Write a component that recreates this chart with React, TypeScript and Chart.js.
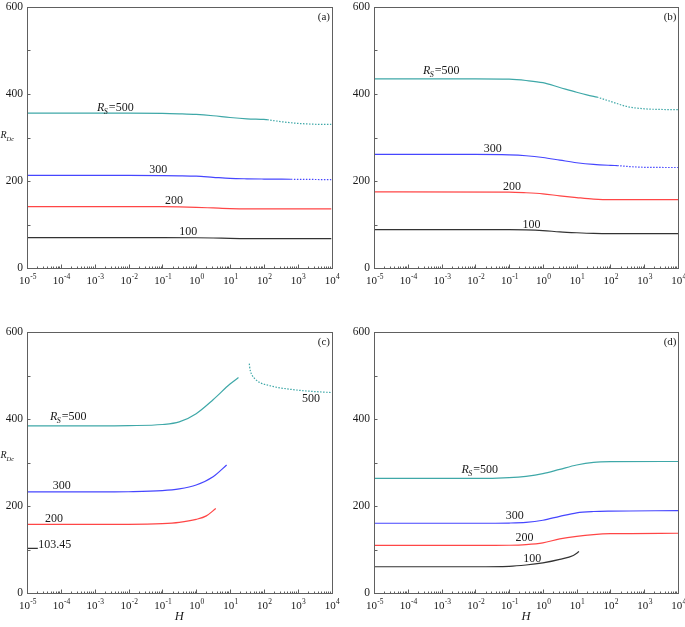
import React, { useEffect, useRef } from 'react';
import { Chart, registerables } from 'chart.js';

Chart.register(...registerables);

const SERIF = '"Liberation Serif", "Times New Roman", serif';
const TEAL = '#3fa8a8';
const BLUE = '#4646ff';
const RED = '#ff4646';
const BLACK = '#333333';
const FRAME = '#606060';
const TEXT = '#1a1a1a';

// Axis ticks
const X_DECADES = [-5, -4, -3, -2, -1, 0, 1, 2, 3, 4];
const Y_MAJOR = [0, 200, 400, 600];
const Y_MINOR = [100, 300, 500];

// ---------- Panel (a) ----------
const A500_SOLID_LOGH = [-5, -2, -1, -0.5, 0, 0.5, 1, 1.5, 2, 2.1];
const A500_SOLID_R = [356, 356, 355.5, 354.5, 353, 350, 346, 343, 341.5, 341];
const A500_DOT_LOGH = [2.1, 2.5, 3, 3.5, 4];
const A500_DOT_R = [341, 336.5, 332.5, 330.5, 330];
const A300_SOLID_LOGH = [-5, -2, -1, -0.5, 0, 0.5, 1, 1.5, 2, 2.8];
const A300_SOLID_R = [213, 213, 212.5, 212, 211, 208.5, 206, 205, 204.5, 204];
const A300_DOT_LOGH = [2.8, 3.5, 4];
const A300_DOT_R = [204, 203.5, 203];
const A200_LOGH = [-5, -1, -0.5, 0, 0.5, 1, 1.5, 2, 4];
const A200_R = [141, 141, 140.5, 139.5, 138, 136.5, 136, 135.8, 135.8];
const A100_LOGH = [-5, -1, 0, 0.5, 1, 1.5, 2, 4];
const A100_R = [70, 70, 69.5, 69, 68, 67.5, 67.5, 67.5];

// ---------- Panel (b) ----------
const B500_SOLID_LOGH = [-5, -2, -1, -0.5, 0, 0.5, 1, 1.3, 1.6];
const B500_SOLID_R = [435, 435, 434, 431, 426, 415, 404, 398, 393];
const B500_DOT_LOGH = [1.6, 2, 2.5, 3, 3.5, 4];
const B500_DOT_R = [393, 383, 371, 366, 364.5, 364];
const B300_SOLID_LOGH = [-5, -2, -1, -0.5, 0, 0.5, 1, 1.5, 2, 2.2];
const B300_SOLID_R = [261, 261, 260, 258, 254, 248, 242, 238, 236, 235.5];
const B300_DOT_LOGH = [2.2, 2.6, 3, 4];
const B300_DOT_R = [235.5, 233, 231.5, 231];
const B200_LOGH = [-5, -1, -0.5, 0, 0.5, 1, 1.5, 2, 4];
const B200_R = [175, 174.5, 173, 170.5, 166, 162, 158.5, 157, 157];
const B100_LOGH = [-5, -1, -0.5, 0, 0.5, 1, 1.5, 2, 4];
const B100_R = [88, 88, 87.5, 86, 83, 81, 79.5, 79, 79];

// ---------- Panel (c) ----------
const C500_SOLID_LOGH = [-5, -3, -2, -1, -0.5, 0, 0.5, 1, 1.25];
const C500_SOLID_R = [385, 385, 385.5, 388, 394, 413, 445, 481, 496];
const C500_DOT_LOGH = [1.57, 1.58, 1.6, 1.65, 1.75, 1.89, 2.09, 2.39, 2.78, 3.28, 4];
const C500_DOT_R = [528, 521, 512, 502, 492, 484, 479, 473.5, 469, 465, 461.5];
const C300_LOGH = [-5, -3, -2, -1, -0.5, 0, 0.5, 0.9];
const C300_R = [233, 233, 233.5, 236, 240, 249, 268, 295];
const C200_LOGH = [-5, -2, -1, -0.5, 0, 0.3, 0.58];
const C200_R = [158.5, 158.5, 160, 163, 170, 178, 195];
const C100_LOGH = [-5, -4.68];
const C100_R = [103.45, 103.45];

// ---------- Panel (d) ----------
const D500_LOGH = [-5, -2, -1, -0.5, 0, 0.5, 1, 1.5, 2, 4];
const D500_R = [264, 264, 266, 269, 275, 285, 295, 301, 302.5, 303];
const D300_LOGH = [-5, -2, -1, -0.5, 0, 0.5, 1, 1.5, 2, 4];
const D300_R = [161, 161, 161.5, 163, 168, 177, 185, 188, 189, 190];
const D200_LOGH = [-5, -2, -1, -0.5, 0, 0.5, 1, 1.5, 2, 4];
const D200_R = [110, 110, 110.5, 112, 116, 125, 131, 135, 137, 138];
const D100_LOGH = [-5, -2, -1, -0.5, 0, 0.5, 0.9, 1.07];
const D100_R = [61, 61, 62, 65, 70, 78, 87, 96];

type Series = { logH: number[]; r: number[]; color: string; dotted?: boolean };
type Note = { logH: number; r: number; text: string; rs?: boolean };
type PanelCfg = {
  left: number; top: number; width: number; height: number;
  pad: { left: number; right: number; top: number; bottom: number };
  series: Series[];
  notes: Note[];
  tag: string;
  yTitleR?: number;
  xTitle?: boolean;
};

const PANELS: PanelCfg[] = [
  {
    left: 0, top: 0, width: 342, height: 310,
    pad: { left: 27, right: 10.5, top: 7, bottom: 42 },
    series: [
      { logH: A500_SOLID_LOGH, r: A500_SOLID_R, color: TEAL },
      { logH: A500_DOT_LOGH, r: A500_DOT_R, color: TEAL, dotted: true },
      { logH: A300_SOLID_LOGH, r: A300_SOLID_R, color: BLUE },
      { logH: A300_DOT_LOGH, r: A300_DOT_R, color: BLUE, dotted: true },
      { logH: A200_LOGH, r: A200_R, color: RED },
      { logH: A100_LOGH, r: A100_R, color: BLACK },
    ],
    notes: [
      { logH: -2.93, r: 361, text: '500', rs: true },
      { logH: -1.39, r: 218, text: '300' },
      { logH: -0.92, r: 147, text: '200' },
      { logH: -0.5, r: 76, text: '100' },
    ],
    tag: '(a)',
    yTitleR: 299,
  },
  {
    left: 342, top: 0, width: 343, height: 310,
    pad: { left: 32, right: 7, top: 7, bottom: 42 },
    series: [
      { logH: B500_SOLID_LOGH, r: B500_SOLID_R, color: TEAL },
      { logH: B500_DOT_LOGH, r: B500_DOT_R, color: TEAL, dotted: true },
      { logH: B300_SOLID_LOGH, r: B300_SOLID_R, color: BLUE },
      { logH: B300_DOT_LOGH, r: B300_DOT_R, color: BLUE, dotted: true },
      { logH: B200_LOGH, r: B200_R, color: RED },
      { logH: B100_LOGH, r: B100_R, color: BLACK },
    ],
    notes: [
      { logH: -3.55, r: 446, text: '500', rs: true },
      { logH: -1.75, r: 266, text: '300' },
      { logH: -1.18, r: 179, text: '200' },
      { logH: -0.6, r: 93, text: '100' },
    ],
    tag: '(b)',
  },
  {
    left: 0, top: 310, width: 342, height: 317,
    pad: { left: 27, right: 10.5, top: 22.3, bottom: 33.7 },
    series: [
      { logH: C500_SOLID_LOGH, r: C500_SOLID_R, color: TEAL },
      { logH: C500_DOT_LOGH, r: C500_DOT_R, color: TEAL, dotted: true },
      { logH: C300_LOGH, r: C300_R, color: BLUE },
      { logH: C200_LOGH, r: C200_R, color: RED },
      { logH: C100_LOGH, r: C100_R, color: BLACK },
    ],
    notes: [
      { logH: -4.32, r: 398, text: '500', rs: true },
      { logH: -4.24, r: 240, text: '300' },
      { logH: -4.47, r: 163, text: '200' },
      { logH: -4.67, r: 104, text: '103.45' },
      { logH: 3.13, r: 439, text: '500' },
    ],
    tag: '(c)',
    yTitleR: 311,
    xTitle: true,
  },
  {
    left: 342, top: 310, width: 343, height: 317,
    pad: { left: 32, right: 7, top: 22.3, bottom: 33.7 },
    series: [
      { logH: D500_LOGH, r: D500_R, color: TEAL },
      { logH: D300_LOGH, r: D300_R, color: BLUE },
      { logH: D200_LOGH, r: D200_R, color: RED },
      { logH: D100_LOGH, r: D100_R, color: BLACK },
    ],
    notes: [
      { logH: -2.41, r: 276, text: '500', rs: true },
      { logH: -1.1, r: 170, text: '300' },
      { logH: -0.81, r: 121, text: '200' },
      { logH: -0.58, r: 73, text: '100' },
    ],
    tag: '(d)',
    xTitle: true,
  },
];

function decorPlugin(cfg: PanelCfg) {
  return {
    id: 'decor',
    afterDraw(chart: any) {
      const ctx: CanvasRenderingContext2D = chart.ctx;
      const a = chart.chartArea;
      const xs = chart.scales.x;
      const ys = chart.scales.y;
      ctx.save();
      ctx.strokeStyle = FRAME;
      ctx.lineWidth = 1;
      // frame
      ctx.strokeRect(Math.round(a.left) + 0.5, Math.round(a.top) + 0.5, Math.round(a.right - a.left), Math.round(a.bottom - a.top));
      // ticks
      const bottom = Math.round(a.bottom) + 0.5;
      const leftX = Math.round(a.left) + 0.5;
      ctx.beginPath();
      X_DECADES.forEach((d) => {
        const px = Math.round(xs.getPixelForValue(Math.pow(10, d))) + 0.5;
        ctx.moveTo(px, bottom);
        ctx.lineTo(px, bottom - 4);
        if (d < X_DECADES[X_DECADES.length - 1]) {
          for (let m = 2; m <= 9; m++) {
            const p = Math.round(xs.getPixelForValue(m * Math.pow(10, d))) + 0.5;
            ctx.moveTo(p, bottom);
            ctx.lineTo(p, bottom - 2);
          }
        }
      });
      Y_MAJOR.concat(Y_MINOR).forEach((v) => {
        const py = Math.round(ys.getPixelForValue(v)) + 0.5;
        ctx.moveTo(leftX, py);
        ctx.lineTo(leftX + 3, py);
      });
      ctx.stroke();

      ctx.fillStyle = TEXT;
      // y tick labels
      ctx.font = `11.5px ${SERIF}`;
      ctx.textAlign = 'right';
      ctx.textBaseline = 'middle';
      Y_MAJOR.forEach((v) => {
        ctx.fillText(String(v), a.left - 4, ys.getPixelForValue(v));
      });
      // x tick labels 10^n
      ctx.textAlign = 'left';
      ctx.textBaseline = 'alphabetic';
      X_DECADES.forEach((d) => {
        const px = xs.getPixelForValue(Math.pow(10, d));
        ctx.font = `11px ${SERIF}`;
        const wb = ctx.measureText('10').width;
        ctx.font = `7.5px ${SERIF}`;
        const es = String(d);
        const we = ctx.measureText(es).width;
        const x0 = px - (wb + we) / 2 + 0.5;
        ctx.font = `11px ${SERIF}`;
        ctx.fillText('10', x0, a.bottom + 15.5);
        ctx.font = `7.5px ${SERIF}`;
        ctx.fillText(es, x0 + wb + 0.3, a.bottom + 10.5);
      });
      // curve labels
      cfg.notes.forEach((n) => {
        const x = xs.getPixelForValue(Math.pow(10, n.logH));
        const y = ys.getPixelForValue(n.r);
        if (n.rs) {
          ctx.font = `italic 12px ${SERIF}`;
          ctx.fillText('R', x, y);
          const wr = ctx.measureText('R').width;
          ctx.font = `italic 8px ${SERIF}`;
          ctx.fillText('S', x + wr - 0.5, y + 3);
          const ws = ctx.measureText('S').width;
          ctx.font = `12px ${SERIF}`;
          ctx.fillText('=' + n.text, x + wr + ws + 0.5, y);
        } else {
          ctx.font = `12px ${SERIF}`;
          ctx.fillText(n.text, x, y);
        }
      });
      // panel tag
      ctx.font = `11px ${SERIF}`;
      ctx.textAlign = 'right';
      ctx.fillText(cfg.tag, a.right - 1.5, a.top + 12.5);
      // y title
      if (cfg.yTitleR !== undefined) {
        const y = ys.getPixelForValue(cfg.yTitleR);
        ctx.textAlign = 'left';
        ctx.font = `italic 10px ${SERIF}`;
        ctx.fillText('R', 0.5, y);
        const wr = ctx.measureText('R').width;
        ctx.font = `italic 6.5px ${SERIF}`;
        ctx.fillText('Dc', 0.5 + wr, y + 3);
      }
      // x title
      if (cfg.xTitle) {
        ctx.textAlign = 'center';
        ctx.font = `italic 12.5px ${SERIF}`;
        ctx.fillText('H', (a.left + a.right) / 2, a.bottom + 27);
      }
      ctx.restore();
    },
  };
}

function Panel({ cfg }: { cfg: PanelCfg }) {
  const ref = useRef<HTMLCanvasElement | null>(null);
  useEffect(() => {
    if (!ref.current) return;
    const datasets = cfg.series.map((s) => ({
      data: s.logH.map((e, i) => ({ x: Math.pow(10, e), y: s.r[i] })),
      borderColor: s.color,
      borderWidth: 1.2,
      borderDash: s.dotted ? [1.5, 1.5] : [],
      pointRadius: 0,
      fill: false,
      cubicInterpolationMode: 'monotone' as const,
    }));
    const chart = new Chart(ref.current, {
      type: 'line',
      data: { datasets },
      options: {
        animation: false,
        responsive: false,
        events: [],
        layout: { padding: cfg.pad },
        plugins: { legend: { display: false }, tooltip: { enabled: false }, title: { display: false } },
        scales: {
          x: { type: 'logarithmic', min: 1e-5, max: 1e4, display: false },
          y: { type: 'linear', min: 0, max: 600, display: false },
        },
      },
      plugins: [decorPlugin(cfg)],
    });
    return () => chart.destroy();
  }, [cfg]);
  return (
    <canvas
      ref={ref}
      width={cfg.width}
      height={cfg.height}
      style={{ position: 'absolute', left: cfg.left, top: cfg.top, width: cfg.width, height: cfg.height }}
    />
  );
}

export default function App() {
  return (
    <div style={{ position: 'absolute', left: 0, top: 0, width: 685, height: 627, background: '#ffffff', overflow: 'hidden' }}>
      {PANELS.map((p, i) => (
        <Panel key={i} cfg={p} />
      ))}
    </div>
  );
}
